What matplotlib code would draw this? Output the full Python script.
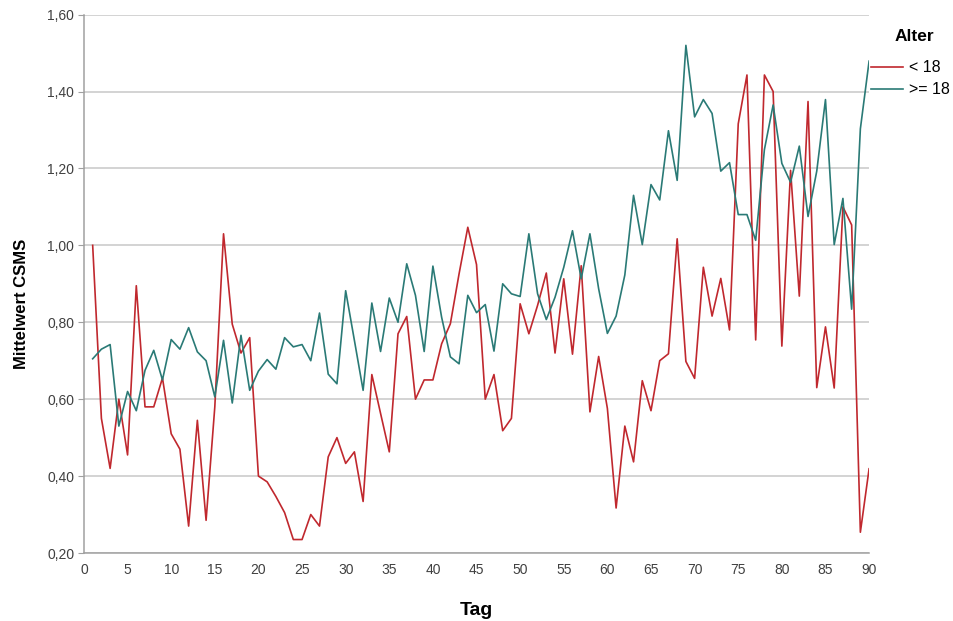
import matplotlib.pyplot as plt
import numpy as np
from matplotlib.ticker import FuncFormatter

plt.rcParams['font.family'] = ['Liberation Sans', 'DejaVu Sans']

days = list(range(1, 91))

# Mittelwert CSMS, Alter < 18
under_18 = [1.00, 0.55, 0.42, 0.60, 0.455, 0.895, 0.58, 0.58, 0.655, 0.51,
            0.47, 0.27, 0.545, 0.285, 0.58, 1.03, 0.795, 0.72, 0.76, 0.40,
            0.385, 0.347, 0.305, 0.235, 0.235, 0.30, 0.27, 0.45, 0.50, 0.433,
            0.463, 0.334, 0.664, 0.563, 0.463, 0.77, 0.815, 0.60, 0.65, 0.65,
            0.744, 0.796, 0.926, 1.047, 0.95, 0.60, 0.664, 0.518, 0.55, 0.848,
            0.77, 0.844, 0.928, 0.72, 0.913, 0.717, 0.947, 0.567, 0.711, 0.576,
            0.317, 0.53, 0.437, 0.648, 0.57, 0.70, 0.718, 1.017, 0.698, 0.654,
            0.943, 0.816, 0.914, 0.78, 1.316, 1.443, 0.754, 1.443, 1.40, 0.738,
            1.195, 0.868, 1.374, 0.63, 0.788, 0.629, 1.10, 1.053, 0.254, 0.419]

# Mittelwert CSMS, Alter >= 18
over_18 = [0.705, 0.73, 0.742, 0.53, 0.62, 0.57, 0.675, 0.727, 0.65, 0.755,
           0.73, 0.786, 0.723, 0.70, 0.606, 0.753, 0.59, 0.766, 0.623, 0.673,
           0.703, 0.678, 0.76, 0.736, 0.742, 0.70, 0.824, 0.665, 0.64, 0.882,
           0.753, 0.623, 0.85, 0.724, 0.863, 0.80, 0.952, 0.87, 0.724, 0.946,
           0.813, 0.71, 0.692, 0.87, 0.825, 0.846, 0.725, 0.90, 0.874, 0.867,
           1.03, 0.874, 0.807, 0.865, 0.943, 1.038, 0.913, 1.03, 0.887, 0.771,
           0.816, 0.923, 1.13, 1.002, 1.158, 1.118, 1.298, 1.169, 1.52, 1.334,
           1.379, 1.343, 1.193, 1.215, 1.08, 1.08, 1.013, 1.249, 1.365, 1.213,
           1.164, 1.258, 1.075, 1.193, 1.379, 1.002, 1.122, 0.834, 1.303, 1.479]

red = '#C0282E'
teal = '#2A7A76'

fig = plt.figure(figsize=(9.54, 6.21), dpi=100)
ax = fig.add_axes([0.088, 0.1095, 0.823, 0.867])

ax.plot(days, under_18, color=red, lw=1.2, label='< 18', zorder=3)
ax.plot(days, over_18, color=teal, lw=1.2, label='>= 18', zorder=3)

ax.set_xlim(0, 90)
ax.set_ylim(0.2, 1.6)
ax.set_xticks(np.arange(0, 91, 5))
ax.set_yticks(np.arange(0.2, 1.61, 0.2))
ax.yaxis.set_major_formatter(FuncFormatter(lambda v, p: f'{v:.2f}'.replace('.', ',')))

ax.grid(axis='y', color='#C8C8C8', lw=1.1)
ax.set_axisbelow(True)
for s in ['top', 'right']:
    ax.spines[s].set_visible(False)
for s in ['left', 'bottom']:
    ax.spines[s].set_color('#A0A0A0')
    ax.spines[s].set_linewidth(1.1)
ax.tick_params(axis='y', length=4, color='#A0A0A0', labelsize=10, labelcolor='#404040', pad=3)
ax.tick_params(axis='x', length=0, labelsize=10, labelcolor='#404040', pad=7)

ax.set_xlabel('Tag', fontsize=14, fontweight='bold', labelpad=18)
fig.text(0.023, 0.51, 'Mittelwert CSMS', rotation=90, fontsize=12,
         fontweight='bold', ha='center', va='center')

# legend title drawn separately to get the wider gap of the original
fig.text(0.958, 0.942, 'Alter', fontsize=12.5, fontweight='bold', ha='center', va='center')
leg = fig.legend(loc='upper left', bbox_to_anchor=(0.913, 0.903), frameon=False,
                 fontsize=11.5, handlelength=2.0, handletextpad=0.35,
                 labelspacing=0.45, borderpad=0, borderaxespad=0)

fig.savefig('out.png', dpi=100)
